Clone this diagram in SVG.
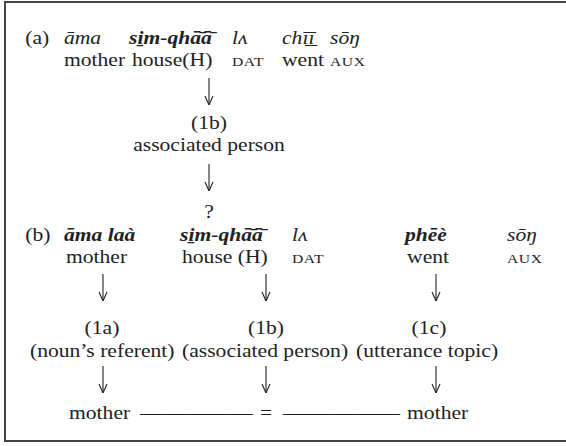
<svg xmlns="http://www.w3.org/2000/svg" width="566" height="446" viewBox="0 0 566 446">
<style>
text{font-family:"Liberation Serif","Times New Roman",serif;font-size:18px;fill:#222}
.i{font-style:italic}
.bi{font-style:italic;font-weight:bold}
.sc{font-size:13px;letter-spacing:0.5px}
.m{text-anchor:middle}
.arr{stroke:#222;stroke-width:1.1;fill:none}
</style>
<defs>
<marker id="ah" viewBox="0 0 10 10" refX="10" refY="5" markerWidth="10" markerHeight="10" markerUnits="userSpaceOnUse" orient="auto">
<path d="M1,1 L10,5 L1,9" fill="none" stroke="#222" stroke-width="1.1"/>
</marker>
</defs>
<rect width="566" height="446" fill="#fff"/>
<path d="M566,2 H5 V441 H566" fill="none" stroke="#444" stroke-width="2"/>
<g id="connectors" class="arr">
<line x1="209" y1="78" x2="209" y2="105" marker-end="url(#ah)"/>
<line x1="209" y1="164" x2="209" y2="191" marker-end="url(#ah)"/>
<line x1="103" y1="274" x2="103" y2="301" marker-end="url(#ah)"/>
<line x1="266" y1="274" x2="266" y2="301" marker-end="url(#ah)"/>
<line x1="436" y1="274" x2="436" y2="301" marker-end="url(#ah)"/>
<line x1="103" y1="366" x2="103" y2="393" marker-end="url(#ah)"/>
<line x1="266" y1="366" x2="266" y2="393" marker-end="url(#ah)"/>
<line x1="436" y1="366" x2="436" y2="393" marker-end="url(#ah)"/>
</g>
<g transform="scale(1.2,1)">
<g id="example-a">
<text x="21" y="44">(a)</text>
<text class="i" x="53.3" y="44">āma</text>
<text class="bi" x="107.5" y="44">si&#x331;m-qh&#x101;&#x304;&#x101;&#x304;</text>
<text class="i" x="193.3" y="44">l&#x28C;</text>
<text class="i" x="235" y="44">ch&#x12B;&#x331;&#x12B;&#x331;</text>
<text class="i" x="275" y="44">s&#x14D;&#x14B;</text>
<text x="53.3" y="66">mother</text>
<text x="110" y="66">house(H)</text>
<text class="sc" x="193.3" y="66">DAT</text>
<text x="235" y="66">went</text>
<text class="sc" x="275" y="66">AUX</text>
</g>
<g id="node-a-1b">
<text class="m" x="174.2" y="129">(1b)</text>
<text class="m" x="174.2" y="151">associated person</text>
</g>
<g id="node-question">
<text class="m" x="174.2" y="218">?</text>
</g>
<g id="example-b">
<text x="21" y="241">(b)</text>
<text class="bi" x="53.3" y="241">āma laà</text>
<text class="bi" x="150" y="241">si&#x331;m-qh&#x101;&#x304;&#x101;&#x304;</text>
<text class="i" x="243.3" y="241">l&#x28C;</text>
<text class="bi" x="337.5" y="241">ph&#x113;&#xE8;</text>
<text class="i" x="422.5" y="241">s&#x14D;&#x14B;</text>
<text x="55" y="263">mother</text>
<text x="151.7" y="263">house (H)</text>
<text class="sc" x="243.3" y="263">DAT</text>
<text x="339.2" y="263">went</text>
<text class="sc" x="422.5" y="263">AUX</text>
</g>
<g id="node-1a">
<text class="m" x="85" y="334">(1a)</text>
<text x="25" y="357">(noun’s referent)</text>
</g>
<g id="node-1b">
<text class="m" x="221.7" y="334">(1b)</text>
<text x="151.7" y="357">(associated person)</text>
</g>
<g id="node-1c">
<text class="m" x="357.5" y="334">(1c)</text>
<text x="296.7" y="357">(utterance topic)</text>
</g>
<g id="result">
<text x="57.5" y="419">mother</text>
<text x="116.7" y="419" textLength="94" lengthAdjust="spacingAndGlyphs">—————</text>
<text class="m" x="221.7" y="419">=</text>
<text x="235.8" y="419" textLength="97.5" lengthAdjust="spacingAndGlyphs">—————</text>
<text x="339.2" y="419">mother</text>
</g>
</g>
</svg>
